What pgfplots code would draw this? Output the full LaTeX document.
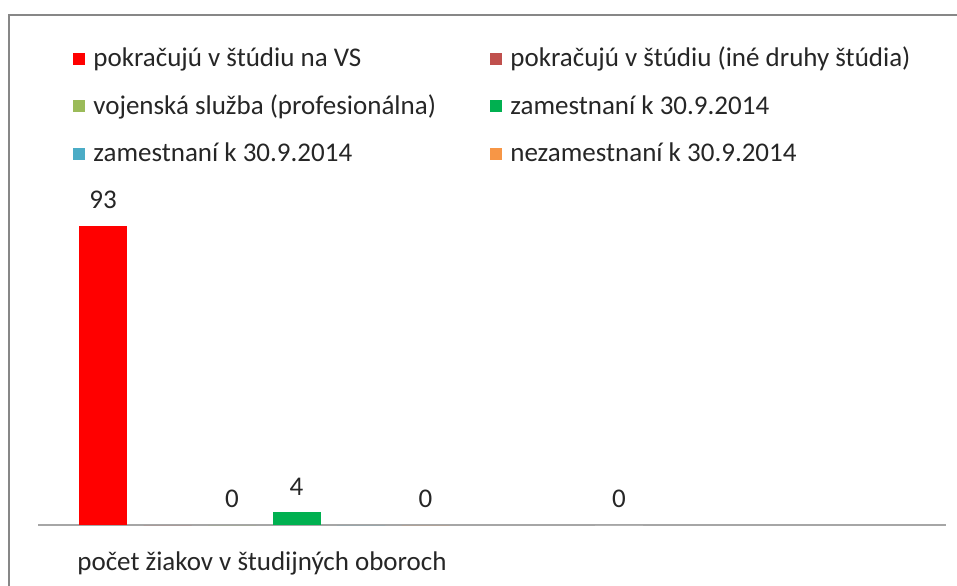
\documentclass[border=0pt]{standalone}
\usepackage{fontspec}
\setmainfont{Carlito}
\usepackage{pgfplots}
\pgfplotsset{compat=1.18}
\definecolor{sRed}{HTML}{FF0000}
\definecolor{sBrown}{HTML}{C0504D}
\definecolor{sLGreen}{HTML}{9BBB59}
\definecolor{sGreen}{HTML}{00B050}
\definecolor{sTeal}{HTML}{4BACC6}
\definecolor{sOrange}{HTML}{F79646}
\definecolor{framegray}{HTML}{878787}
\definecolor{axisgray}{HTML}{A6A6A6}
\definecolor{txt}{HTML}{262626}
\pgfplotsset{
  mybar/.style={ybar, bar width=48, bar shift=0pt, fill=#1, draw=none,
    legend image code/.code={\fill[#1] (0pt,-3pt) rectangle (6pt,3pt);}},
}
\newcommand{\lbl}{\fontsize{13.5}{16}\selectfont}
\begin{document}
\begin{tikzpicture}
\useasboundingbox (0,0) rectangle (478.5pt,292.5pt);
\draw[framegray, line width=0.9pt] (4.5pt,-2pt) -- (4.5pt,285pt) -- (480pt,285pt);
\begin{axis}[
  scale only axis, width=454pt, height=160.75pt,
  at={(19pt,30pt)}, anchor=south west,
  xmin=38, xmax=946, ymin=0, ymax=100,
  clip=false,
  axis x line*=bottom, axis y line=none,
  x axis line style={-, draw=axisgray, line width=0.8pt},
  xtick=\empty, ytick=\empty,
  /pgf/number format/assume math mode=true,
  xlabel={počet žiakov v študijných oboroch},
  xlabel style={at={(axis description cs:0.2467,-0.118)}, anchor=center, font=\lbl, text=txt},
  legend columns=2,
  legend cell align=left,
  legend style={at={(axis description cs:0.0385,1.50)}, anchor=north west,
    draw=none, fill=none, inner sep=0pt, row sep=8.5pt, font=\lbl, text=txt,
    /tikz/every odd column/.append style={column sep=2pt}},
  every node near coord/.append style={anchor=south, yshift=5pt, font=\lbl, text=txt},
]
\addplot[mybar=sRed, nodes near coords] coordinates {(103,93)};
\addlegendentry{\makebox[196.5pt][l]{pokračujú v štúdiu na VS}}
\addplot[mybar=sBrown] coordinates {(167.5,0)};
\addlegendentry{pokračujú v štúdiu (iné druhy štúdia)}
\addplot[mybar=sLGreen, nodes near coords] coordinates {(232,0)};
\addlegendentry{\makebox[196.5pt][l]{vojenská služba (profesionálna)}}
\addplot[mybar=sGreen, nodes near coords] coordinates {(296.5,4)};
\addlegendentry{zamestnaní k 30.9.2014}
\addplot[mybar=sTeal] coordinates {(361,0)};
\addlegendentry{\makebox[196.5pt][l]{zamestnaní k 30.9.2014}}
\addplot[mybar=sOrange, nodes near coords] coordinates {(425.5,0)};
\addlegendentry{nezamestnaní k 30.9.2014}
\addplot[mybar=white, nodes near coords, forget plot] coordinates {(619,0)};
\end{axis}
\end{tikzpicture}
\end{document}
